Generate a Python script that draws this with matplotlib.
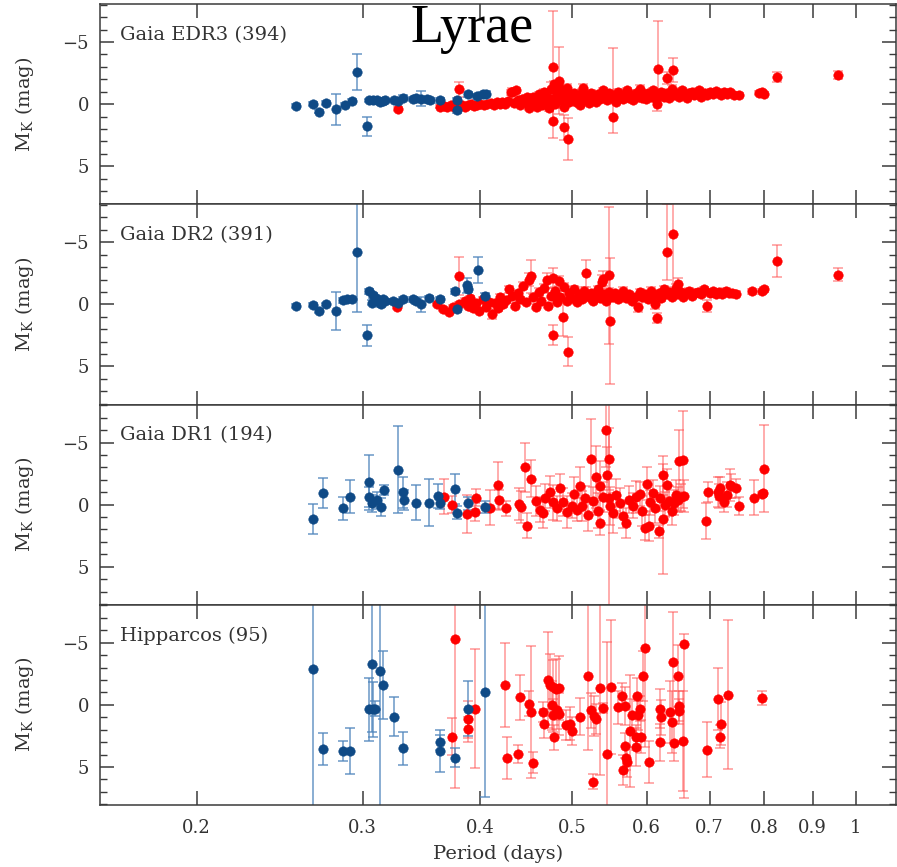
import numpy as np
import matplotlib
matplotlib.use("Agg")
import matplotlib.pyplot as plt
from matplotlib.ticker import FixedLocator, NullLocator, MultipleLocator, FixedFormatter

plt.rcParams['font.family'] = 'DejaVu Serif'
plt.rcParams['mathtext.fontset'] = 'dejavuserif'

# rows are (period [d], M_K [mag], err); err is either symmetric or (bright side, faint side)

edr3_blue = [
    (0.255, 0.13, 0.15), (0.266, 0.0, 0.15), (0.270, 0.6, 0.15), (0.274, -0.1, 0.15),
    (0.281, 0.4, 1.25), (0.287, 0.05, 0.15), (0.292, -0.25, 0.15), (0.296, -2.6, 1.45),
    (0.303, 1.8, 0.8), (0.305, -0.3, 0.15), (0.308, -0.35, 0.2), (0.311, -0.3, 0.15),
    (0.313, -0.15, 0.15), (0.315, -0.25, 0.2), (0.317, -0.3, 0.15), (0.324, -0.3, 0.15),
    (0.327, -0.25, 0.15), (0.331, -0.5, 0.2), (0.339, -0.4, 0.15), (0.342, -0.5, 0.15),
    (0.346, -0.45, 0.6), (0.351, -0.4, 0.15), (0.354, -0.3, 0.2), (0.362, -0.3, 0.2),
    (0.378, -0.3, 0.2), (0.378, 0.5, 0.2), (0.388, -0.8, 0.2), (0.397, -0.65, 0.2),
    (0.402, -0.8, 0.2), (0.405, -0.85, 0.2),
]

edr3_red = [
    (0.327, 0.4, 0.15), (0.380, -1.2, 0.6), (0.432, -1.0, 0.3),
    (0.362, 0.2, 0.15), (0.366, 0.15, 0.15), (0.369, 0.25, 0.15), (0.372, 0.1, 0.15),
    (0.375, 0.2, 0.15), (0.378, 0.15, 0.15), (0.382, 0.05, 0.15), (0.385, 0.2, 0.15),
    (0.388, 0.1, 0.15), (0.391, 0.0, 0.15), (0.394, 0.15, 0.15), (0.397, 0.05, 0.15),
    (0.400, -0.05, 0.15), (0.403, 0.1, 0.15), (0.406, 0.0, 0.15),
    (0.410, -0.1, 0.15), (0.413, 0.05, 0.15), (0.416, -0.15, 0.15), (0.419, 0.0, 0.15),
    (0.422, -0.2, 0.15), (0.425, -0.05, 0.15), (0.428, -0.25, 0.15), (0.431, -0.95, 0.2),
    (0.434, -0.1, 0.15), (0.436, -1.1, 0.2), (0.438, -0.3, 0.15), (0.440, 0.1, 0.15),
    (0.443, -0.4, 0.15), (0.446, -0.2, 0.15), (0.448, -0.55, 0.2), (0.450, 0.3, 0.15),
    (0.452, -0.1, 0.15), (0.455, -0.6, 0.2),
    (0.457, -0.3, 0.15), (0.459, 0.2, 0.15), (0.461, -0.8, 0.2), (0.463, -0.45, 0.15),
    (0.465, 0.1, 0.15), (0.467, -1.0, 0.2), (0.469, -0.2, 0.15), (0.471, -0.6, 0.15),
    (0.473, 0.35, 0.2), (0.475, -1.2, 0.6), (0.477, -0.4, 0.15), (0.479, -1.6, 0.3),
    (0.480, 0.0, 0.15), (0.482, -0.8, 0.2), (0.484, -1.4, 0.3), (0.486, -0.3, 0.15),
    (0.488, -1.0, 0.2), (0.490, 0.2, 0.15), (0.492, -0.6, 0.15), (0.494, -1.3, 0.3),
    (0.496, -0.2, 0.15), (0.498, -0.7, 0.15), (0.500, -0.4, 0.15),
    (0.503, -0.9, 0.2), (0.505, -0.2, 0.15), (0.508, -0.6, 0.15), (0.510, 0.1, 0.15),
    (0.512, -1.0, 0.2), (0.514, -1.3, 0.35), (0.516, -0.4, 0.15), (0.519, -0.7, 0.15),
    (0.521, -0.1, 0.15), (0.524, -0.9, 0.2), (0.527, -0.5, 0.15), (0.530, -0.2, 0.15),
    (0.533, -0.8, 0.2), (0.536, -0.4, 0.15), (0.539, -1.1, 0.2), (0.542, -0.6, 0.15),
    (0.545, -0.3, 0.15), (0.548, -0.9, 0.2), (0.551, -0.5, 0.15), (0.554, -0.7, 0.15),
    (0.557, -0.2, 0.15), (0.560, -1.0, 0.2), (0.563, -0.6, 0.15), (0.566, -0.4, 0.15),
    (0.569, -0.8, 0.2), (0.572, -1.1, 0.2), (0.575, -0.5, 0.15), (0.578, -0.7, 0.15),
    (0.581, -0.3, 0.15), (0.584, -0.9, 0.2), (0.587, -0.6, 0.15), (0.590, -1.2, 0.3),
    (0.593, -0.5, 0.15), (0.596, -0.8, 0.2), (0.599, -0.4, 0.15),
    (0.602, -0.9, 0.2), (0.606, -0.6, 0.15), (0.610, -1.1, 0.2), (0.614, -0.4, 0.15),
    (0.618, -0.8, 0.2), (0.622, -1.0, 0.2), (0.626, -0.6, 0.15), (0.630, -0.9, 0.2),
    (0.634, -0.5, 0.15), (0.638, -1.2, 0.3), (0.642, -0.7, 0.15), (0.646, -0.9, 0.2),
    (0.650, -0.6, 0.15), (0.654, -1.1, 0.2), (0.658, -0.8, 0.15), (0.662, -0.5, 0.15),
    (0.666, -0.9, 0.2), (0.670, -1.0, 0.2), (0.674, -0.7, 0.15), (0.678, -0.85, 0.15),
    (0.682, -1.1, 0.2), (0.686, -0.6, 0.15), (0.690, -0.9, 0.2), (0.695, -0.75, 0.15),
    (0.700, -1.0, 0.2), (0.705, -0.8, 0.15), (0.710, -1.05, 0.2), (0.715, -0.9, 0.15),
    (0.720, -0.7, 0.15), (0.725, -1.0, 0.2), (0.730, -0.85, 0.15), (0.736, -0.95, 0.15),
    (0.742, -0.75, 0.15), (0.752, -0.75, 0.15), (0.790, -0.9, 0.15), (0.795, -0.95, 0.15),
    (0.800, -0.8, 0.15),
    (0.477, -3.0, 4.5), (0.484, -1.9, 2.7), (0.477, 1.35, 1.4), (0.490, 1.85, 1.0),
    (0.495, 2.8, 1.7), (0.553, 1.0, (5.5, 1.3)), (0.615, 0.0, 0.55), (0.617, -2.8, (3.9, 2.3)),
    (0.631, -2.1, 0.5), (0.640, -2.75, 1.0), (0.824, -2.2, 0.4), (0.958, -2.35, 0.35),
]

dr2_blue = [
    (0.255, 0.15, 0.15), (0.266, 0.05, 0.15), (0.270, 0.55, 0.15), (0.274, 0.0, 0.15),
    (0.281, 0.55, 1.55), (0.286, -0.35, 0.2), (0.289, -0.4, 0.2), (0.292, -0.45, 0.15),
    (0.296, -4.2, 4.8), (0.303, 2.5, 0.85), (0.305, -1.05, 0.2), (0.308, -0.75, 0.2),
    (0.310, -0.5, 0.2), (0.307, -0.15, 0.2), (0.313, -0.15, 0.2), (0.315, -0.4, 0.2),
    (0.317, -0.25, 0.2), (0.314, 0.0, 0.2), (0.323, -0.25, 0.2), (0.327, -0.15, 0.2),
    (0.331, -0.4, 0.2), (0.339, -0.4, 0.2), (0.342, -0.25, 0.2), (0.346, 0.0, 0.6),
    (0.353, -0.5, 0.2), (0.362, -0.4, 0.2), (0.376, -1.05, 0.2), (0.378, 0.4, 0.2),
    (0.387, -1.55, 0.6), (0.388, -1.2, 0.2), (0.398, -2.8, 1.05), (0.404, -0.7, 0.2),
]

dr2_red = [
    (0.326, 0.25, 0.15), (0.360, 0.0, 0.15), (0.365, 0.35, 0.15), (0.370, 0.6, 0.2),
    (0.374, 0.2, 0.15), (0.380, 0.0, 0.2), (0.380, -2.3, 1.55),
    (0.385, -0.3, 0.2), (0.388, 0.1, 0.2), (0.390, -0.5, 0.2), (0.393, 0.3, 0.2),
    (0.396, -0.1, 0.2), (0.399, 0.5, 0.2), (0.402, -0.4, 0.2), (0.405, 0.2, 0.2),
    (0.408, -0.2, 0.2), (0.411, 0.75, 0.4), (0.414, -0.1, 0.2), (0.417, 0.3, 0.2),
    (0.420, -0.6, 0.2), (0.423, 0.0, 0.2), (0.426, -0.35, 0.2), (0.429, -1.2, 0.3),
    (0.432, -0.7, 0.2), (0.435, 0.1, 0.2), (0.438, -0.9, 0.2), (0.441, -0.4, 0.2),
    (0.444, -1.5, 0.3), (0.447, -0.2, 0.2), (0.450, -2.0, 0.5), (0.452, -2.25, 1.3),
    (0.455, -0.6, 0.2), (0.458, 0.2, 0.2),
    (0.461, -1.0, 0.3), (0.464, -0.3, 0.2), (0.467, -1.3, 0.3), (0.470, -1.95, 0.6),
    (0.472, 0.1, 0.2), (0.475, -0.7, 0.2), (0.477, 2.5, 0.8), (0.478, -2.1, 0.8),
    (0.480, -1.1, 0.3), (0.482, -0.2, 0.2), (0.484, -1.9, 0.4), (0.486, -0.6, 0.2),
    (0.489, 1.05, 1.5), (0.491, -1.4, 0.3), (0.494, -0.3, 0.2), (0.495, 3.8, 1.2),
    (0.497, -0.9, 0.2), (0.500, -0.5, 0.2), (0.503, -1.2, 0.3), (0.506, -0.2, 0.2),
    (0.509, -0.8, 0.2), (0.512, -0.4, 0.2), (0.515, -1.1, 0.3), (0.518, -2.5, 1.1),
    (0.521, -0.6, 0.2), (0.524, -0.9, 0.2), (0.527, -0.3, 0.2), (0.530, -0.7, 0.2),
    (0.533, -1.2, 0.3), (0.536, -0.5, 0.2), (0.538, -1.8, 0.6), (0.539, -2.05, 0.6),
    (0.541, -0.8, 0.2), (0.544, -0.3, 0.2), (0.547, -1.0, 0.3), (0.548, -2.35, 5.5),
    (0.549, 1.35, 5.05), (0.551, -0.6, 0.2),
    (0.555, -0.9, 0.2), (0.559, -0.4, 0.2), (0.563, -0.7, 0.2), (0.567, -1.1, 0.3),
    (0.571, -0.5, 0.2), (0.575, -0.8, 0.2), (0.579, -0.3, 0.2), (0.583, -0.6, 0.2),
    (0.588, 0.25, 0.35), (0.590, -1.0, 0.2), (0.594, -0.6, 0.2), (0.598, -0.8, 0.2),
    (0.602, -0.4, 0.2), (0.606, -1.1, 0.3), (0.610, -0.7, 0.2), (0.613, 0.0, 0.4),
    (0.616, 1.1, 0.4), (0.618, -0.9, 0.2), (0.622, -0.5, 0.2), (0.626, -1.2, 0.3),
    (0.630, -0.8, 0.2), (0.631, -4.25, (3.8, 2.3)), (0.634, -1.0, 0.2), (0.638, -0.6, 0.2),
    (0.640, -5.65, (3.0, 4.25)), (0.644, -1.3, 0.3), (0.646, -0.8, 0.2), (0.648, -1.6, 0.5),
    (0.652, -1.0, 0.2), (0.656, -0.6, 0.2),
    (0.660, -0.9, 0.2), (0.665, -1.1, 0.2), (0.670, -0.7, 0.2), (0.675, -0.95, 0.2),
    (0.680, -1.0, 0.2), (0.685, -0.8, 0.2), (0.690, -1.2, 0.2), (0.695, 0.15, 0.5),
    (0.700, -0.9, 0.2), (0.705, -1.05, 0.2), (0.710, -0.8, 0.2), (0.716, -1.0, 0.2),
    (0.722, -0.85, 0.2), (0.728, -1.1, 0.2), (0.734, -0.9, 0.2), (0.740, -0.95, 0.2),
    (0.746, -0.85, 0.2), (0.776, -1.05, 0.2), (0.796, -1.05, 0.2), (0.800, -1.2, 0.2),
    (0.824, -3.5, 1.3), (0.958, -2.4, 0.5),
]

dr1_blue = [
    (0.266, 1.15, 1.2), (0.272, -0.95, 1.2), (0.286, 0.3, 0.95), (0.291, -0.65, 1.3),
    (0.305, -1.8, 2.2), (0.305, -0.6, 0.8), (0.307, -0.1, 0.7), (0.311, -0.35, 0.7),
    (0.314, 0.2, 0.7), (0.316, -1.15, 0.4), (0.327, -2.8, 3.5), (0.331, -1.0, 1.25),
    (0.332, -0.4, 0.8), (0.342, -0.15, 1.4), (0.353, -0.15, 1.9), (0.361, -0.7, 1.0),
    (0.362, -0.15, 0.5), (0.376, -1.25, 1.2), (0.378, 0.65, 0.5), (0.388, -0.1, 0.5),
    (0.404, 0.2, 0.5),
]

dr1_red = [
    (0.366, -0.65, 1.4), (0.373, 0.0, 0.7), (0.387, 0.75, 1.5), (0.395, 0.6, 0.7),
    (0.396, -0.55, 0.7), (0.409, 0.25, 1.4), (0.417, -1.55, 1.9), (0.418, -0.35, 0.8),
    (0.426, 0.3, 0.6), (0.439, -0.05, 1.3), (0.442, 0.2, 1.3), (0.446, -3.0, 2.0),
    (0.448, 1.7, 1.0), (0.452, -2.1, 1.5), (0.458, -0.3, 1.2), (0.462, 0.4, 1.0),
    (0.466, 0.7, 1.2), (0.468, -0.55, 1.1), (0.474, -1.0, 1.3), (0.478, -0.2, 1.4),
    (0.482, 0.3, 1.0), (0.486, -1.3, 1.2), (0.489, -0.2, 1.1), (0.494, 0.6, 1.3),
    (0.500, 0.1, 1.0), (0.502, -0.85, 1.4), (0.506, 0.4, 0.9), (0.510, -1.5, 1.5),
    (0.512, 0.1, 1.2), (0.516, -0.5, 1.0), (0.520, 0.8, 1.3), (0.524, -3.7, 3.2),
    (0.527, -0.3, 1.1), (0.530, -2.25, 2.5), (0.533, 0.5, 1.4), (0.535, -1.5, 2.0),
    (0.536, 1.45, 1.0), (0.540, -0.6, 1.2), (0.543, -6.0, 3.0), (0.545, -2.4, 2.2),
    (0.547, -0.5, 9.0), (0.548, -3.7, 2.5), (0.549, 0.1, 1.5), (0.553, 0.7, 1.6),
    (0.557, -0.8, 1.3), (0.562, -0.15, 1.2), (0.566, 0.9, 1.0), (0.571, 1.45, 1.2),
    (0.575, -0.4, 1.1), (0.580, 0.1, 1.0), (0.585, -0.6, 1.3), (0.590, -0.85, 1.0),
    (0.593, 0.5, 1.2), (0.597, 1.85, 1.0), (0.600, -1.7, 1.3), (0.603, 1.7, 1.2),
    (0.605, -0.2, 1.0), (0.609, -0.9, 1.1), (0.613, 0.3, 1.2), (0.618, 2.15, 0.5),
    (0.620, -0.5, 1.0), (0.624, 1.15, 4.4), (0.625, -2.35, 1.6), (0.628, 0.0, 1.0),
    (0.631, -1.55, 1.3), (0.634, -0.3, 1.2), (0.638, 0.5, 1.1), (0.641, -0.15, 1.0),
    (0.645, -0.8, 1.2), (0.648, -0.4, 1.0), (0.649, -3.5, 2.5), (0.653, -0.6, 1.1),
    (0.655, -3.6, 3.9), (0.658, -0.7, 1.3), (0.693, 1.3, 1.45), (0.697, -1.05, 0.8),
    (0.714, -1.0, 1.2), (0.716, -0.7, 1.0), (0.718, -1.3, 0.9), (0.725, -0.2, 0.8),
    (0.730, -0.8, 1.0), (0.735, -1.6, 1.3), (0.738, -1.5, 1.0), (0.746, -1.3, 0.8),
    (0.752, 0.1, 0.7), (0.780, -0.55, 1.4), (0.796, -0.85, 0.2), (0.798, -0.9, 0.2),
    (0.800, -2.9, 3.5),
]

hip_blue = [
    (0.266, -2.9, 12.0), (0.272, 3.55, 1.25), (0.286, 3.7, 0.8), (0.291, 3.75, 1.85),
    (0.305, 0.35, 2.55), (0.307, -3.3, 5.5), (0.308, 0.35, 2.2), (0.309, 0.3, 0.6),
    (0.313, -2.75, 12.0), (0.315, -1.6, 2.75), (0.324, 0.95, 1.55), (0.331, 3.5, 1.3),
    (0.362, 3.7, 1.7), (0.362, 3.0, 0.6), (0.376, 4.25, 0.75), (0.388, 0.3, 2.2),
    (0.404, -1.05, 8.5),
]

hip_red = [
    (0.373, 2.55, 1.5), (0.376, -5.3, 12.0), (0.388, 1.15, 1.5), (0.388, 1.95, 1.0),
    (0.395, 0.3, 4.8), (0.425, -1.6, 3.4), (0.427, 4.25, 1.7), (0.438, 3.95, 0.75),
    (0.441, -0.6, 1.8), (0.450, -0.1, 1.0), (0.452, 0.6, 5.3), (0.455, 4.65, 0.85),
    (0.466, 0.55, 0.8), (0.467, 1.5, 1.2), (0.472, -2.0, 3.9), (0.474, -1.6, 2.5),
    (0.476, 0.05, 2.0), (0.478, -1.4, 2.2), (0.478, 0.85, 1.3), (0.479, 2.6, 1.0),
    (0.481, -1.3, 2.4), (0.482, 0.45, 1.5), (0.484, -1.35, 2.6), (0.485, 0.75, 1.7),
    (0.493, 1.65, 1.2), (0.498, 1.5, 1.3), (0.500, 2.1, 1.1), (0.510, 0.95, 1.5),
    (0.520, -2.35, 6.0), (0.524, 0.45, 1.4), (0.526, 6.2, 0.6), (0.528, 0.9, 1.6),
    (0.530, 1.15, 1.2), (0.535, -1.35, 7.0), (0.540, 0.25, 0.4), (0.545, 3.95, 9.0),
    (0.550, -1.45, 5.4), (0.559, 0.2, 1.3), (0.565, -0.75, 1.0), (0.567, 5.25, 1.2),
    (0.569, 0.1, 1.5), (0.570, 4.25, 1.0), (0.572, 4.6, 1.2), (0.569, 3.3, 1.0),
    (0.576, 2.1, 4.5), (0.579, 0.8, 1.3), (0.585, 2.6, 1.0), (0.585, 3.4, 1.5),
    (0.586, -0.75, 1.4), (0.588, 0.85, 1.2), (0.590, 0.3, 1.0), (0.592, 2.55, 1.3),
    (0.595, -2.35, 2.0), (0.597, -4.6, 8.0), (0.603, 4.6, 1.7), (0.620, 0.3, 1.6),
    (0.622, 1.0, 1.4), (0.620, 3.0, 1.5), (0.635, 0.55, 2.5), (0.638, 1.4, 2.5),
    (0.640, -3.45, 4.0), (0.642, 3.05, 1.5), (0.648, -2.35, 2.5), (0.649, 0.1, 1.2),
    (0.650, 0.5, 1.0), (0.655, 2.9, 4.0), (0.657, -4.9, (0.8, 12.4)), (0.696, 3.6, 2.2),
    (0.714, -0.5, 2.5), (0.718, 2.55, 0.9), (0.720, 1.5, 1.7), (0.732, -0.8, 6.0),
    (0.796, -0.55, 0.6),
]

panels = [
    ("Gaia EDR3 (394)", edr3_blue, edr3_red),
    ("Gaia DR2 (391)", dr2_blue, dr2_red),
    ("Gaia DR1 (194)", dr1_blue, dr1_red),
    ("Hipparcos (95)", hip_blue, hip_red),
]

period_ticks = [0.2, 0.3, 0.4, 0.5, 0.6, 0.7, 0.8, 0.9, 1.0]
period_labels = ["0.2", "0.3", "0.4", "0.5", "0.6", "0.7", "0.8", "0.9", "1"]

BLUE = "#0f4a86"
BLUE_BAR = "#4f86bd"
RED = "#ff0000"
RED_BAR = "#ff5050"
AXCOL = "#3a3a3a"


def unpack(rows):
    p = np.array([r[0] for r in rows])
    m = np.array([r[1] for r in rows])
    lo = np.array([r[2][0] if isinstance(r[2], tuple) else r[2] for r in rows])
    hi = np.array([r[2][1] if isinstance(r[2], tuple) else r[2] for r in rows])
    return p, m, lo, hi


def draw_set(ax, rows, barcol, alpha):
    p, m, lo, hi = unpack(rows)
    ax.errorbar(p, m, yerr=[lo, hi], fmt='none', ecolor=barcol, alpha=alpha,
                elinewidth=1.1, capsize=3.6, capthick=1.1, zorder=2)
    return p, m


fig = plt.figure(figsize=(8.97, 8.67), dpi=100)
gs = fig.add_gridspec(4, 1, left=100/897, right=896/897, top=1-4/867, bottom=1-805/867, hspace=0)

for i, (label, blue, red) in enumerate(panels):
    ax = fig.add_subplot(gs[i])
    rp, rm = draw_set(ax, red, RED_BAR, 0.6)
    bp, bm = draw_set(ax, blue, BLUE_BAR, 0.85)
    ax.plot(rp, rm, 'o', ms=6.8, color=RED, mec=RED, mew=0.4, zorder=3)
    ax.plot(bp, bm, 'o', ms=6.8, color=BLUE, mec=BLUE, mew=0.4, zorder=4)

    ax.set_xscale('log')
    ax.set_xlim(0.158, 1.103)
    ax.set_ylim(8.06, -8.06)
    ax.xaxis.set_major_locator(FixedLocator(period_ticks))
    ax.xaxis.set_minor_locator(NullLocator())
    ax.xaxis.set_major_formatter(FixedFormatter(period_labels))
    ax.yaxis.set_major_locator(FixedLocator([-5, 0, 5]))
    ax.yaxis.set_minor_locator(MultipleLocator(1))

    ax.tick_params(which='both', direction='in', top=True, right=True, color=AXCOL,
                   labelcolor="#333333", labelsize=13)
    ax.tick_params(which='major', length=10, width=1.1)
    ax.tick_params(which='minor', length=5, width=1.0)
    ax.tick_params(axis='x', pad=10)
    ax.tick_params(axis='y', pad=8)
    for s in ax.spines.values():
        s.set_color(AXCOL)
        s.set_linewidth(1.1)

    if i < 3:
        ax.tick_params(labelbottom=False)

    ax.set_ylabel(r"M$_{\mathrm{K}}$ (mag)", fontsize=14, color="#333333")
    ax.yaxis.set_label_coords(-64/796, 0.5)
    ax.text(0.025, 0.845, label, transform=ax.transAxes, fontsize=14,
            color="#333333", va='center', ha='left', zorder=6)

    if i == 3:
        ax.set_xlabel("Period (days)", fontsize=14, color="#333333")
        ax.xaxis.set_label_coords(0.5, -40/200)

fig.text(0.526, 1 - 42/867, "Lyrae", fontsize=39, family='Liberation Serif',
         ha='center', va='baseline', color='black', zorder=10)

fig.savefig("out.png", dpi=100)
